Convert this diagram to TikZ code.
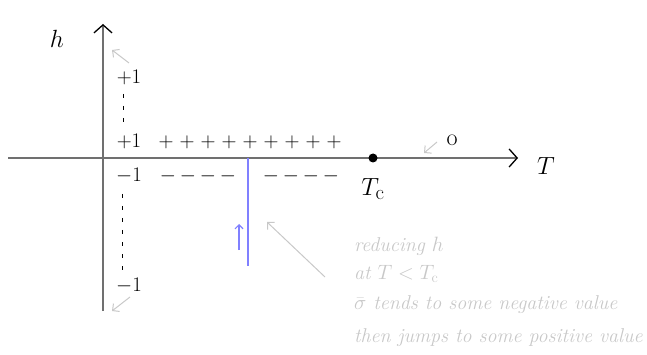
\documentclass[tikz,border=0pt]{standalone}
\usetikzlibrary{arrows.meta}
\definecolor{axisgrey}{HTML}{707070}
\definecolor{notegrey}{HTML}{C8C8C8}
\definecolor{jumpblue}{HTML}{8080FF}
\tikzset{
  axis/.style={draw=axisgrey, line width=1.6pt, -{Straight Barb[length=8pt,width=18pt,line width=1.3pt,color=black]}},
  sign/.style={inner sep=0pt, font=\fontsize{20}{22}\selectfont},
  note/.style={inner sep=0pt, anchor=west, text=notegrey, font=\fontsize{20}{22}\selectfont\itshape},
  hint/.style={draw=notegrey, line width=1pt, -{Straight Barb[length=5pt,width=10pt]}},
  dotline/.style={draw=black, line width=1pt, dash pattern=on 4pt off 8pt},
}
\begin{document}
\begin{tikzpicture}[x=1pt,y=-1pt]
\useasboundingbox (0,0) rectangle (647,355);
% axes
\coordinate (xs) at (8,158);
\coordinate (xe) at (518,158);
\coordinate (ys) at (103,311);
\coordinate (ye) at (103,24);
\draw[axis] (xs) -- (xe);
\draw[axis] (ys) -- (ye);
\node[inner sep=0pt, font=\fontsize{30}{30}\selectfont] (hlab) at (57,39) {$h$};
\node[inner sep=0pt, font=\fontsize{25}{25}\selectfont] (Tlab) at (546,166) {$T$};
% Tc
\fill (373,158) circle (4.5pt) coordinate (tc);
\node[inner sep=0pt, font=\fontsize{28}{28}\selectfont] (tclab) at (373,189) {$T_{\mathrm{c}}$};
% labels on axis
\node[sign] (ptop) at (129,77) {$+1$};
\node[sign] (p1) at (129,141) {$+1$};
\node[sign] (m1) at (129,176) {$-1$};
\node[sign] (mbot) at (129,286) {$-1$};
\draw[dotline] (123,94) -- (123,124);
\draw[dotline] (122,194) -- (122,276);
% pluses
\foreach \i/\x in {1/166,2/187,3/208,4/229,5/250,6/271,7/292,8/313,9/334}
  \node[sign] (plus\i) at (\x,142) {$+$};
% minuses
\foreach \i/\x in {1/168,2/188,3/208,4/228,5/271,6/291,7/311,8/331}
  \node[sign] (minus\i) at (\x,176) {$-$};
% zero
\node[inner sep=0pt, font=\fontsize{24}{24}\selectfont] (zero) at (452,140) {o};
% blue jump
\coordinate (bj1) at (248,158);
\coordinate (bj2) at (248,266);
\draw[jumpblue, line width=1.6pt] (bj1) -- (bj2);
\coordinate (ba1) at (239,250);
\coordinate (ba2) at (239,224);
\draw[jumpblue, line width=1.2pt, -{Straight Barb[length=4pt,width=8pt]}] (ba1) -- (ba2);
% grey hints
\coordinate (h1a) at (129,63); \coordinate (h1b) at (112,50);
\draw[hint] (h1a) -- (h1b);
\coordinate (h2a) at (130,297); \coordinate (h2b) at (112,311);
\draw[hint] (h2a) -- (h2b);
\coordinate (h3a) at (437,142); \coordinate (h3b) at (424,153);
\draw[hint] (h3a) -- (h3b);
\coordinate (h4a) at (325,277); \coordinate (h4b) at (267,222);
\draw[hint] (h4a) -- (h4b);
% note text
\node[note] (n1) at (354,246) {reducing $h$};
\node[note] (n2) at (354,274) {at $T<T_{\mathrm{c}}$};
\node[note] (n3) at (354,305) {$\bar\sigma$ tends to some negative value};
\node[note] (n4) at (354,338) {then jumps to some positive value};
\end{tikzpicture}
\end{document}
